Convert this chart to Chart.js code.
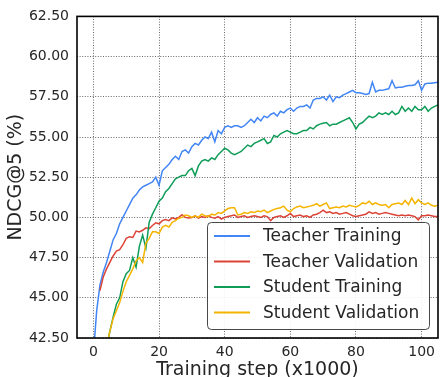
<!DOCTYPE html>
<html>
<head>
<meta charset="utf-8">
<script src="https://cdn.jsdelivr.net/npm/chart.js@4/dist/chart.umd.min.js"></script>
<style>
  html, body { margin: 0; padding: 0; background: #ffffff; }
  #wrap { width: 443px; height: 377px; }
</style>
</head>
<body>
<div id="wrap"><canvas id="c" width="443" height="377"></canvas></div>
<script>
// Training step (x1000) for every logged point
const steps = [
  0, 1, 2, 3, 4, 5, 6, 7, 8, 9,
  10, 11, 12, 13, 14, 15, 16, 17, 18, 19,
  20, 21, 22, 23, 24, 25, 26, 27, 28, 29,
  30, 31, 32, 33, 34, 35, 36, 37, 38, 39,
  40, 41, 42, 43, 44, 45, 46, 47, 48, 49,
  50, 51, 52, 53, 54, 55, 56, 57, 58, 59,
  60, 61, 62, 63, 64, 65, 66, 67, 68, 69,
  70, 71, 72, 73, 74, 75, 76, 77, 78, 79,
  80, 81, 82, 83, 84, 85, 86, 87, 88, 89,
  90, 91, 92, 93, 94, 95, 96, 97, 98, 99,
  100, 101, 102, 103, 104, 105
];

// NDCG@5 (%) per step
const teacherTraining = [
  41.5, 44.2, 45.8, 46.6, 47.2, 47.9, 48.6, 49.0, 49.6, 50.0,
  50.4, 50.8, 51.2, 51.4, 51.7, 51.9, 52.0, 52.1, 52.2, 52.5,
  52.0, 52.9, 53.1, 53.3, 53.6, 53.8, 53.6, 54.1, 54.2, 54.0,
  54.4, 54.6, 54.5, 54.8, 55.0, 54.9, 55.3, 54.7, 55.4, 55.2,
  55.6, 55.7, 55.6, 55.7, 55.7, 55.6, 55.7, 55.9, 56.1, 55.9,
  56.2, 56.0, 56.3, 56.2, 56.4, 56.5, 56.3, 56.6, 56.5, 56.7,
  56.8, 56.6, 56.8, 56.9, 56.9, 57.0, 56.8, 57.3, 57.4, 57.4,
  57.5, 57.3, 57.6, 57.2, 57.5, 57.45, 57.6, 57.7, 57.8, 57.9,
  57.75, 57.75, 57.7, 57.65, 57.7, 58.4, 57.8, 57.9, 57.9, 57.95,
  58.0, 58.5, 58.05, 58.1, 58.1, 58.15, 58.2, 58.2, 58.25, 58.5,
  57.9, 58.3, 58.35, 58.35, 58.38, 58.4
];

const teacherValidation = [
  null, null, 45.45, 46.3, 46.8, 47.2, 47.6, 47.9, 48.0, 48.3,
  48.7, 48.8, 48.75, 49.15, 49.1, 49.2, 49.35, 49.3, 49.5, 49.66,
  49.6, 49.8, 49.86, 49.8, 49.97, 49.9, 50.0, 50.17, 50.0, 49.97,
  50.0, 50.1, 49.95, 50.05, 50.0, 50.1, 50.0, 49.95, 50.05, 49.9,
  50.0, 50.05, 50.1, 50.15, 50.0, 50.05, 50.1, 50.0, 50.05, 50.1,
  50.05, 50.0, 50.1, 50.05, 49.8, 50.0, 50.05, 50.1, 50.0, 50.1,
  50.25, 50.05, 50.1, 50.15, 50.05, 50.1, 50.0, 50.15, 50.2, 50.3,
  50.45, 50.3, 50.35, 50.25, 50.3, 50.2, 50.25, 50.3, 50.2, 50.1,
  50.05, 50.1, 50.15, 50.2, 50.35, 50.25, 50.3, 50.2, 50.25, 50.3,
  50.25, 50.2, 50.15, 50.1, 50.15, 50.1, 50.15, 50.1, 50.05, 49.85,
  50.1, 50.1, 50.15, 50.1, 50.05, 50.05
];

const studentTraining = [
  null, null, 39.9, 40.9, 41.9, 42.9, 43.8, 44.6, 45.0, 46.0,
  46.5, 46.7, 47.5, 46.9, 48.2, 48.9, 48.1, 49.7, 50.2, 50.6,
  51.0, 51.2, 51.6, 51.8, 52.1, 52.4, 52.5, 52.6, 52.6, 52.9,
  53.05, 52.6, 53.2, 53.5, 53.6, 53.5, 53.7, 53.6, 53.9, 54.1,
  54.3, 54.2, 54.0, 53.9, 54.0, 54.1, 54.3, 54.5, 54.4, 54.6,
  54.7, 54.8, 54.9, 54.6, 54.7, 55.1, 55.0, 55.2, 55.3, 55.4,
  55.3, 55.2, 55.2, 55.3, 55.4, 55.4, 55.6, 55.5, 55.7, 55.8,
  55.85, 55.9, 55.7, 55.8, 55.8, 55.9, 56.0, 56.1, 56.2, 55.9,
  55.5, 55.8, 55.9, 56.1, 56.3, 56.2, 56.3, 56.5, 56.4, 56.5,
  56.4, 56.6, 56.4, 56.5, 56.9, 56.6, 56.8, 56.6, 56.9, 56.7,
  56.7, 56.9, 56.6, 56.8, 56.9, 57.0
];

const studentValidation = [
  null, null, 39.8, 40.9, 42.0, 42.9, 43.7, 44.2, 44.7, 45.4,
  46.0, 46.4, 46.8, 47.3, 47.5, 47.2, 48.4, 48.7, 49.1, 49.1,
  49.0, 49.4, 49.5, 49.4, 49.7, 49.8, 49.95, 50.0, 50.15, 50.1,
  50.0, 50.1, 50.0, 50.2, 50.1, 50.05, 50.2, 50.15, 50.3, 50.25,
  50.4, 50.55, 50.6, 50.6, 50.15, 50.2, 50.3, 50.25, 50.35, 50.3,
  50.4, 50.35, 50.45, 50.3, 50.4, 50.5, 50.55, 50.6, 50.7, 50.45,
  50.35, 50.55, 50.65, 50.7, 50.6, 50.65, 50.7, 50.75, 50.85, 50.7,
  50.8, 50.9, 50.55, 50.6, 50.65, 50.6, 50.7, 50.65, 50.75, 50.7,
  50.65, 50.75, 50.9, 50.85, 51.0, 50.8, 50.9, 50.8, 50.75, 50.8,
  50.6, 50.8, 50.85, 50.9, 50.8, 51.05, 50.8, 51.2, 50.85, 51.1,
  50.9, 50.8, 50.9, 50.75, 50.7, 50.75
];

const seriesNames = ['Teacher Training', 'Teacher Validation', 'Student Training', 'Student Validation'];
const xTicks = [0, 20, 40, 60, 80, 100];
const yTicks = [42.5, 45, 47.5, 50, 52.5, 55, 57.5, 60, 62.5];

const FONT = "'DejaVu Sans', sans-serif";
const TEXT = '#262626';

function points(values) {
  return steps.map((s, i) => ({ x: s, y: values[i] }));
}

function line(label, values, color, order) {
  return {
    label: label,
    data: points(values),
    borderColor: color,
    backgroundColor: color,
    borderWidth: 1.5,
    pointRadius: 0,
    tension: 0,
    fill: false,
    spanGaps: false,
    order: order
  };
}

// Black box around the plotting area
const frame = {
  id: 'frame',
  afterDatasetsDraw(chart) {
    const { ctx, chartArea: a } = chart;
    ctx.save();
    ctx.strokeStyle = '#000000';
    ctx.lineWidth = 1.6;
    ctx.strokeRect(a.left, a.top, a.right - a.left, a.bottom - a.top);
    ctx.restore();
  }
};

// Boxed legend in the lower-right corner of the plot
const boxLegend = {
  id: 'boxLegend',
  afterDraw(chart) {
    const { ctx, chartArea: a } = chart;
    const sets = chart.data.datasets;
    const w = 222, rowH = 25.5, h = 107;
    const x0 = a.right - 9 - w, y0 = a.bottom - 9 - h;
    ctx.save();
    ctx.beginPath();
    ctx.roundRect(x0 + 0.5, y0 + 0.5, w, h, 4);
    ctx.fillStyle = 'rgba(255,255,255,0.9)';
    ctx.fill();
    ctx.strokeStyle = 'rgba(40,40,40,0.85)';
    ctx.lineWidth = 1;
    ctx.stroke();
    ctx.font = '17px ' + FONT;
    ctx.textBaseline = 'middle';
    ctx.textAlign = 'left';
    sets.forEach((ds, i) => {
      const cy = y0 + 14 + i * rowH;
      ctx.beginPath();
      ctx.moveTo(x0 + 7, cy);
      ctx.lineTo(x0 + 43, cy);
      ctx.strokeStyle = ds.borderColor;
      ctx.lineWidth = 2;
      ctx.stroke();
      ctx.fillStyle = TEXT;
      ctx.fillText(ds.label, x0 + 56, cy + 1);
    });
    ctx.restore();
  }
};

new Chart(document.getElementById('c'), {
  type: 'line',
  data: {
    datasets: [
      line(seriesNames[0], teacherTraining, '#4285F4', 4),
      line(seriesNames[1], teacherValidation, '#DB4437', 3),
      line(seriesNames[2], studentTraining, '#0F9D58', 2),
      line(seriesNames[3], studentValidation, '#F4B400', 1)
    ]
  },
  options: {
    responsive: false,
    animation: false,
    devicePixelRatio: 1,
    layout: { padding: { top: 13, right: 5, left: 0, bottom: 0 } },
    plugins: { legend: { display: false }, tooltip: { enabled: false } },
    scales: {
      x: {
        type: 'linear',
        min: -5,
        max: 105,
        afterBuildTicks: s => { s.ticks = xTicks.map(v => ({ value: v })); },
        afterFit: s => { s.height = 39; },
        grid: { color: 'rgba(0,0,0,0.75)', lineWidth: 0.8, drawTicks: false },
        border: { display: false, dash: [1, 1.6] },
        ticks: { padding: 6, color: TEXT, font: { family: FONT, size: 14 }, maxRotation: 0, callback: v => String(v) },
        title: {
          display: true, text: 'Training step (x1000)', color: TEXT,
          font: { family: FONT, size: 19 }, padding: { top: 0, bottom: -4 }
        }
      },
      y: {
        type: 'linear',
        min: 42.5,
        max: 62.5,
        afterBuildTicks: s => { s.ticks = yTicks.map(v => ({ value: v })); },
        afterFit: s => { s.width = 77; },
        grid: { color: 'rgba(0,0,0,0.75)', lineWidth: 0.8, drawTicks: false },
        border: { display: false, dash: [1, 1.6] },
        ticks: { padding: 8, color: TEXT, font: { family: FONT, size: 14 }, callback: v => Number(v).toFixed(2) },
        title: {
          display: true, text: 'NDCG@5 (%)', color: TEXT,
          font: { family: FONT, size: 19 }, padding: { top: 5, bottom: 0 }
        }
      }
    }
  },
  plugins: [frame, boxLegend]
});
</script>
</body>
</html>
